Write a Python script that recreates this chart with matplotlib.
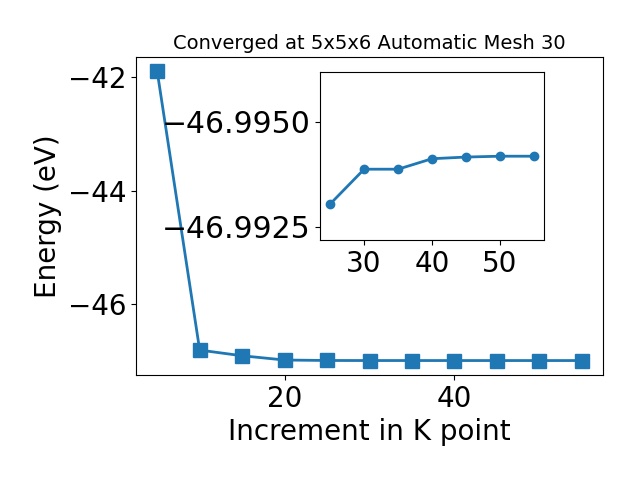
import matplotlib
matplotlib.use("Agg")
import matplotlib.pyplot as plt

kpoints = [5, 10, 15, 20, 25, 30, 35, 40, 45, 50, 55]
energy = [-41.90, -46.81, -46.91, -46.985, -46.99304, -46.99387, -46.99387,
          -46.99412, -46.99416, -46.99418, -46.99418]

inset_k = kpoints[4:]
inset_e = energy[4:]

fig = plt.figure(figsize=(6.4, 4.8), dpi=100)
ax = fig.add_axes([136/640, 105/480, 467/640, 318/480])
ax.plot(kpoints, energy, marker='s', markersize=10, linewidth=2, color='#1f77b4')
ax.set_xlabel('Increment in K point', fontsize=20)
ax.set_ylabel('Energy (eV)', fontsize=20)
ax.set_title('Converged at 5x5x6 Automatic Mesh 30', fontsize=14)
ax.tick_params(labelsize=20)

axin = fig.add_axes([320/640, 240/480, 224/640, 168/480])
axin.plot(inset_k, inset_e, marker='o', markersize=6, linewidth=2, color='#1f77b4')
axin.set_ylim(-46.99218, -46.99619)
axin.set_yticks([-46.9950, -46.9925])
axin.set_yticklabels(['\u221246.9950', '\u221246.9925'])
axin.tick_params(axis='x', labelsize=20)
axin.tick_params(axis='y', labelsize=21.5)

fig.savefig('out.png', dpi=100)
